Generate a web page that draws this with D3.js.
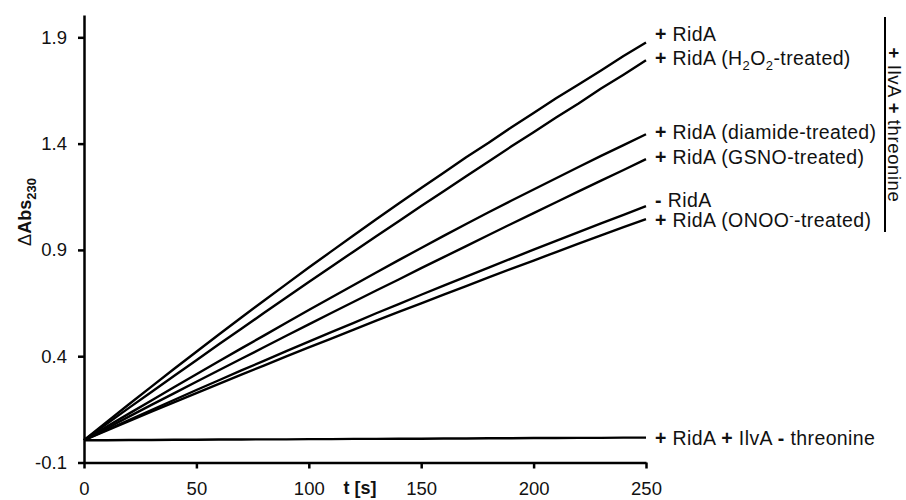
<!DOCTYPE html>
<html lang="en">

<head>
    <meta charset="UTF-8">
    <title>IlvA assay</title>
    <script src="https://d3js.org/d3.v7.min.js"></script>
    <style>
        body {
            margin: 0;
            background: #fff;
        }

        svg {
            font-family: "Liberation Sans", Arial, sans-serif;
        }
    </style>
</head>

<body>
    <div id="chart"></div>
    <script>
        // time points (s)
        var times = [0, 10, 20, 30, 40, 50, 60, 70, 80, 90, 100, 110, 120, 130, 140, 150, 160, 170, 180, 190, 200, 210, 220, 230, 240, 250];

        // dAbs230 readings, one array per sample
        var ridA = [0.005, 0.090, 0.174, 0.257, 0.340, 0.421, 0.502, 0.582, 0.661, 0.739, 0.817, 0.893, 0.969, 1.044, 1.118, 1.191, 1.263, 1.336, 1.404, 1.476, 1.544, 1.613, 1.678, 1.744, 1.812, 1.876];
        var ridAH2O2 = [0.005, 0.081, 0.157, 0.232, 0.307, 0.381, 0.456, 0.529, 0.603, 0.676, 0.749, 0.821, 0.893, 0.964, 1.035, 1.106, 1.176, 1.247, 1.316, 1.386, 1.454, 1.523, 1.589, 1.659, 1.724, 1.792];
        var ridADiamide = [0.005, 0.068, 0.130, 0.192, 0.254, 0.315, 0.376, 0.437, 0.497, 0.557, 0.617, 0.676, 0.735, 0.794, 0.852, 0.909, 0.966, 1.022, 1.077, 1.131, 1.184, 1.237, 1.290, 1.342, 1.393, 1.444];
        var ridAGsno = [0.005, 0.060, 0.116, 0.171, 0.225, 0.280, 0.334, 0.388, 0.442, 0.496, 0.550, 0.603, 0.656, 0.709, 0.761, 0.814, 0.866, 0.918, 0.970, 1.022, 1.073, 1.124, 1.175, 1.226, 1.276, 1.327];
        var noRidA = [0.005, 0.053, 0.100, 0.147, 0.194, 0.241, 0.287, 0.333, 0.378, 0.424, 0.469, 0.513, 0.557, 0.602, 0.645, 0.689, 0.732, 0.774, 0.817, 0.859, 0.901, 0.943, 0.984, 1.025, 1.065, 1.106];
        var ridAOnoo = [0.005, 0.050, 0.094, 0.139, 0.183, 0.226, 0.270, 0.313, 0.356, 0.399, 0.441, 0.483, 0.525, 0.567, 0.608, 0.649, 0.690, 0.730, 0.771, 0.811, 0.850, 0.890, 0.929, 0.968, 1.007, 1.045];
        var noThreonine = [0.005, 0.005, 0.006, 0.006, 0.007, 0.007, 0.008, 0.008, 0.009, 0.009, 0.010, 0.010, 0.011, 0.011, 0.012, 0.012, 0.013, 0.013, 0.014, 0.014, 0.015, 0.015, 0.016, 0.016, 0.017, 0.017];

        var xTicks = [0, 50, 100, 150, 200, 250];
        var yTicks = [-0.1, 0.4, 0.9, 1.4, 1.9];

        var series = [
            { values: ridA, label: [["+", "b"], [" RidA", ""]], dy: -8 },
            { values: ridAH2O2, label: [["+", "b"], [" RidA (H", ""], ["2", "sub"], ["O", ""], ["2", "sub"], ["-treated)", ""]], dy: -2 },
            { values: ridADiamide, label: [["+", "b"], [" RidA (diamide-treated)", ""]], dy: -2 },
            { values: ridAGsno, label: [["+", "b"], [" RidA (GSNO-treated)", ""]], dy: -2 },
            { values: noRidA, label: [["-", "b"], ["  RidA", ""]], dy: -6 },
            { values: ridAOnoo, label: [["+", "b"], [" RidA (ONOO", ""], ["-", "sup"], ["-treated)", ""]], dy: 1 },
            { values: noThreonine, label: [["+", "b"], [" RidA ", ""], ["+", "b"], [" IlvA ", ""], ["-", "b"], [" threonine", ""]], dy: 1 }
        ];

        var width = 906, height = 500;

        var svg = d3.select("#chart").append("svg")
            .attr("width", width)
            .attr("height", height);

        var x = d3.scaleLinear().domain([0, 250]).range([84, 646]);
        var y = d3.scaleLinear().domain([-0.1, 2.005]).range([462.5, 15]);

        var line = d3.line()
            .x(function (d) { return x(d[0]); })
            .y(function (d) { return y(d[1]); });

        svg.selectAll("path.trace")
            .data(series)
            .enter()
            .append("path")
            .attr("class", "trace")
            .attr("d", function (s) { return line(times.map(function (t, i) { return [t, s.values[i]]; })); })
            .attr("fill", "none")
            .attr("stroke", "#000")
            .attr("stroke-width", 2.4)
            .attr("stroke-linejoin", "round");

        // axes
        var xAxis = svg.append("g")
            .attr("transform", "translate(0," + y(-0.1) + ")")
            .call(d3.axisBottom(x).tickValues(xTicks).tickSize(6).tickSizeOuter(0).tickPadding(13));

        var yAxis = svg.append("g")
            .attr("transform", "translate(" + x(0) + ",0)")
            .call(d3.axisLeft(y).tickValues(yTicks)
                .tickFormat(function (d) { return d3.format(".1f")(d).replace("\u2212", "-"); })
                .tickSize(6).tickSizeOuter(0).tickPadding(11));

        [xAxis, yAxis].forEach(function (g) {
            g.select(".domain").attr("stroke", "#000").attr("stroke-width", 2.5);
            g.selectAll(".tick line").attr("stroke", "#000").attr("stroke-width", 2.5);
            g.selectAll(".tick text")
                .attr("fill", "#111")
                .style("font-size", "18.5px")
                .style("font-family", "'Liberation Sans', Arial, sans-serif");
        });

        // axis titles
        svg.append("text")
            .attr("x", 360)
            .attr("y", 494)
            .attr("text-anchor", "middle")
            .style("font-size", "18px")
            .style("font-weight", "bold")
            .attr("fill", "#111")
            .text("t [s]");

        var yTitle = svg.append("text")
            .attr("transform", "translate(31,212) rotate(-90)")
            .attr("text-anchor", "middle")
            .style("font-size", "18px")
            .attr("fill", "#111");
        yTitle.append("tspan").text("\u0394");
        yTitle.append("tspan").style("font-weight", "bold").text("Abs");
        yTitle.append("tspan").style("font-weight", "bold").style("font-size", "13px").attr("dy", 5).text("230");

        // series labels
        var labels = svg.selectAll("text.lbl")
            .data(series)
            .enter()
            .append("text")
            .attr("class", "lbl")
            .attr("x", 655)
            .attr("y", function (s) { return y(s.values[s.values.length - 1]) + s.dy + 6.5; })
            .style("font-size", "19.5px")
            .style("letter-spacing", "0.4px")
            .attr("fill", "#111");

        labels.each(function (s) {
            var t = d3.select(this);
            s.label.forEach(function (p) {
                var sp = t.append("tspan").text(p[0]);
                if (p[1] === "b") sp.style("font-weight", "bold");
                if (p[1] === "sub") sp.style("font-size", "13px").attr("dy", 5);
                if (p[1] === "sup") sp.style("font-size", "13px").attr("dy", -7);
                if (p[1] === "" && sp.node().previousSibling) {
                    var prev = d3.select(sp.node().previousSibling);
                    if (prev.attr("dy") === "5") sp.attr("dy", -5);
                    if (prev.attr("dy") === "-7") sp.attr("dy", 7);
                }
            });
        });

        // bracket for the IlvA + threonine group
        svg.append("line")
            .attr("x1", 885).attr("x2", 885)
            .attr("y1", 17).attr("y2", 232)
            .attr("stroke", "#000")
            .attr("stroke-width", 2);

        var side = svg.append("text")
            .attr("transform", "translate(888,125) rotate(90)")
            .attr("text-anchor", "middle")
            .style("font-size", "18.5px")
            .style("letter-spacing", "0.6px")
            .attr("fill", "#111");
        side.append("tspan").style("font-weight", "bold").text("+");
        side.append("tspan").text(" IlvA ");
        side.append("tspan").style("font-weight", "bold").text("+");
        side.append("tspan").text(" threonine");
    </script>
</body>

</html>
